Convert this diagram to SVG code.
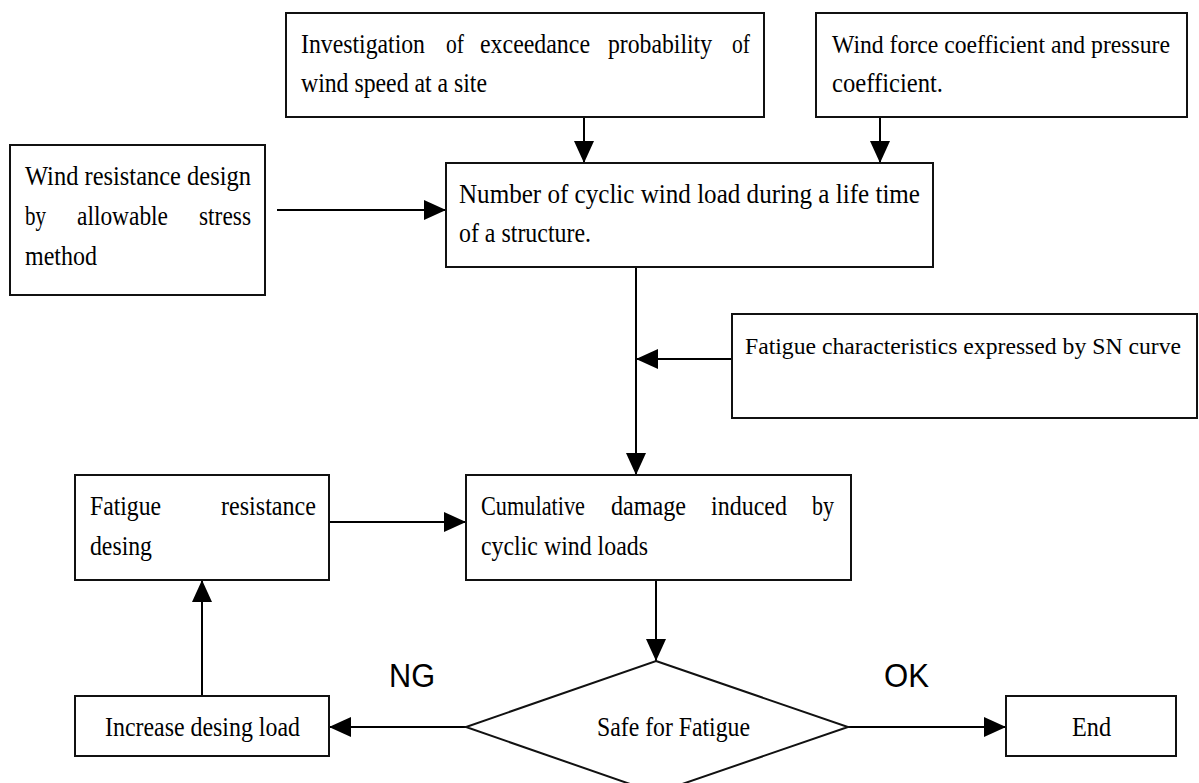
<svg xmlns="http://www.w3.org/2000/svg" width="1199" height="783" viewBox="0 0 1199 783">
<style>
.box{fill:#fff;stroke:#111;stroke-width:2}
.t{font-family:"Liberation Serif","Times New Roman",serif;font-size:27px;fill:#000}
.n{font-size:25px}
.m{font-size:23px}
.s{font-family:"Liberation Sans",Arial,sans-serif;font-size:33px;fill:#000}
.c{fill:none;stroke:#000;stroke-width:2}
</style>
<defs>
<marker id="ah" markerUnits="userSpaceOnUse" markerWidth="22" markerHeight="20" refX="22" refY="10" orient="auto">
<path d="M0,0 L22,10 L0,20 Z" fill="#000"/>
</marker>
</defs>
<rect width="1199" height="783" fill="#fff"/>
<g id="connectors">
<line class="c" x1="584" y1="117" x2="584" y2="163" marker-end="url(#ah)"/>
<line class="c" x1="880" y1="117" x2="880" y2="163" marker-end="url(#ah)"/>
<line class="c" x1="277" y1="210" x2="446" y2="210" marker-end="url(#ah)"/>
<line class="c" x1="636" y1="267" x2="636" y2="475" marker-end="url(#ah)"/>
<line class="c" x1="732" y1="359" x2="636" y2="359" marker-end="url(#ah)"/>
<line class="c" x1="329" y1="522" x2="466" y2="522" marker-end="url(#ah)"/>
<line class="c" x1="656" y1="580" x2="656" y2="661" marker-end="url(#ah)"/>
<line class="c" x1="466" y1="727" x2="329" y2="727" marker-end="url(#ah)"/>
<line class="c" x1="848" y1="727" x2="1006" y2="727" marker-end="url(#ah)"/>
<line class="c" x1="202" y1="696" x2="202" y2="580" marker-end="url(#ah)"/>
</g>
<g id="investigation">
<rect class="box" x="286" y="13" width="478" height="104"/>
<text class="t" y="53"><tspan x="301" textLength="124" lengthAdjust="spacingAndGlyphs">Investigation</tspan><tspan x="446" textLength="18" lengthAdjust="spacingAndGlyphs">of</tspan><tspan x="480" textLength="110" lengthAdjust="spacingAndGlyphs">exceedance</tspan><tspan x="608" textLength="104" lengthAdjust="spacingAndGlyphs">probability</tspan><tspan x="732" textLength="18" lengthAdjust="spacingAndGlyphs">of</tspan></text>
<text class="t" x="301" y="92" textLength="186" lengthAdjust="spacingAndGlyphs">wind speed at a site</text>
</g>
<g id="windforce">
<rect class="box" x="816" y="13" width="371" height="104"/>
<text class="t n" x="832" y="53" textLength="338" lengthAdjust="spacingAndGlyphs">Wind force coefficient and pressure</text>
<text class="t" x="832" y="92" textLength="111" lengthAdjust="spacingAndGlyphs">coefficient.</text>
</g>
<g id="windresistance">
<rect class="box" x="10" y="145" width="255" height="150"/>
<text class="t" x="25" y="185" textLength="226" lengthAdjust="spacingAndGlyphs">Wind resistance design</text>
<text class="t" y="225"><tspan x="25" textLength="21" lengthAdjust="spacingAndGlyphs">by</tspan><tspan x="77" textLength="91" lengthAdjust="spacingAndGlyphs">allowable</tspan><tspan x="199" textLength="52" lengthAdjust="spacingAndGlyphs">stress</tspan></text>
<text class="t" x="25" y="265" textLength="72" lengthAdjust="spacingAndGlyphs">method</text>
</g>
<g id="cycles">
<rect class="box" x="446" y="163" width="487" height="104"/>
<text class="t" x="459" y="203" textLength="461" lengthAdjust="spacingAndGlyphs">Number of cyclic wind load during a life time</text>
<text class="t" x="459" y="242" textLength="132" lengthAdjust="spacingAndGlyphs">of a structure.</text>
</g>
<g id="sncurve">
<rect class="box" x="732" y="314" width="465" height="104"/>
<text class="t m" x="745" y="354" textLength="436" lengthAdjust="spacingAndGlyphs">Fatigue characteristics expressed by SN curve</text>
</g>
<g id="fatigueresistance">
<rect class="box" x="75" y="475" width="254" height="105"/>
<text class="t" y="515"><tspan x="90" textLength="71" lengthAdjust="spacingAndGlyphs">Fatigue</tspan><tspan x="221" textLength="95" lengthAdjust="spacingAndGlyphs">resistance</tspan></text>
<text class="t" x="90" y="555" textLength="62" lengthAdjust="spacingAndGlyphs">desing</text>
</g>
<g id="cumulative">
<rect class="box" x="466" y="475" width="385" height="105"/>
<text class="t" y="515"><tspan x="481" textLength="104" lengthAdjust="spacingAndGlyphs">Cumulative</tspan><tspan x="611" textLength="75" lengthAdjust="spacingAndGlyphs">damage</tspan><tspan x="711" textLength="76" lengthAdjust="spacingAndGlyphs">induced</tspan><tspan x="812" textLength="22" lengthAdjust="spacingAndGlyphs">by</tspan></text>
<text class="t" x="481" y="555" textLength="167" lengthAdjust="spacingAndGlyphs">cyclic wind loads</text>
</g>
<g id="increase">
<rect class="box" x="75" y="696" width="254" height="60"/>
<text class="t" x="105" y="736" textLength="195" lengthAdjust="spacingAndGlyphs">Increase desing load</text>
</g>
<g id="decision">
<polygon class="box" points="656,661 848,727 656,793 466,727"/>
<text class="t" x="597" y="736" textLength="153" lengthAdjust="spacingAndGlyphs">Safe for Fatigue</text>
</g>
<g id="end">
<rect class="box" x="1006" y="696" width="170" height="60"/>
<text class="t" x="1072" y="736" textLength="39" lengthAdjust="spacingAndGlyphs">End</text>
</g>
<g id="labels">
<text class="s" x="389" y="687" textLength="46" lengthAdjust="spacingAndGlyphs">NG</text>
<text class="s" x="884" y="687" textLength="45" lengthAdjust="spacingAndGlyphs">OK</text>
</g>
</svg>
